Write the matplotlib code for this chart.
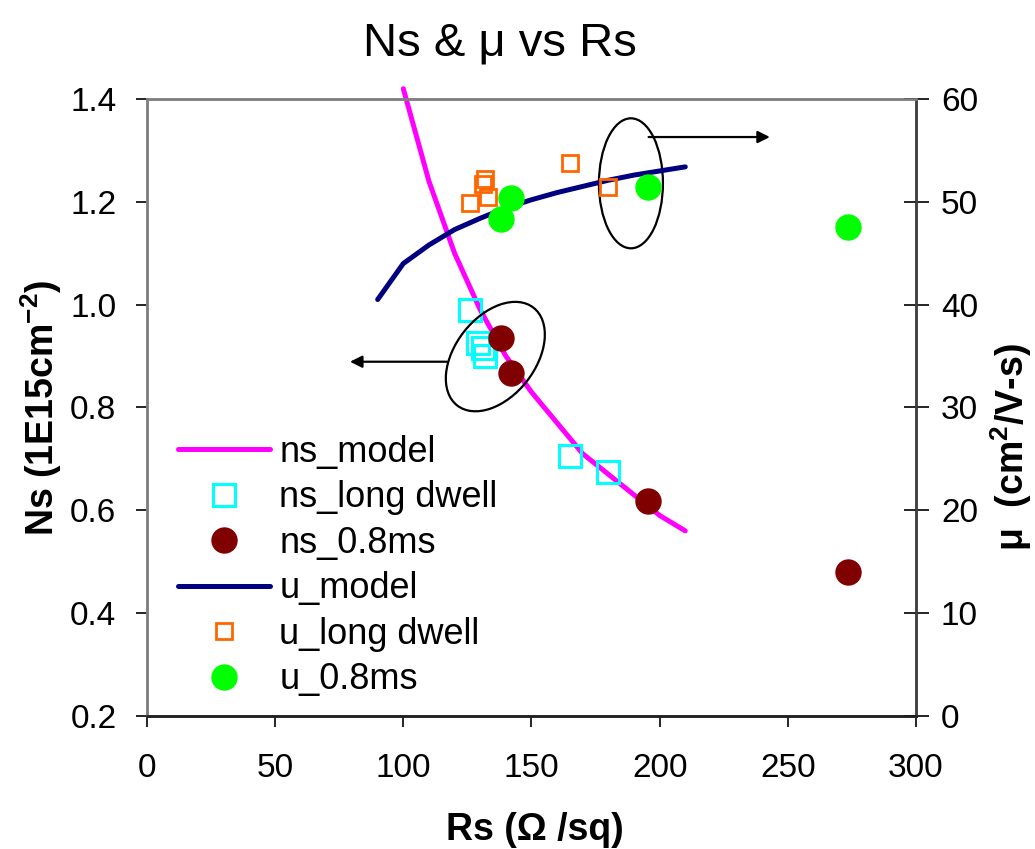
import matplotlib
matplotlib.use("Agg")
import matplotlib.pyplot as plt
from matplotlib.patches import Ellipse
from matplotlib import transforms

plt.rcParams['font.family'] = ['Liberation Sans', 'DejaVu Sans']
plt.rcParams['mathtext.fontset'] = 'custom'
plt.rcParams['mathtext.rm'] = 'Liberation Sans'
plt.rcParams['mathtext.bf'] = 'Liberation Sans:bold'

# model curves
rs_u_model = [90, 100, 110, 120, 130, 140, 150, 160, 170, 180, 190, 200, 210]
u_model = [40.5, 44.0, 45.8, 47.3, 48.4, 49.4, 50.2, 50.9, 51.5, 52.1, 52.6, 53.0, 53.4]
rs_ns_model = [100, 110, 120, 130, 140, 150, 160, 170, 180, 190, 200, 210]
ns_model = [1.42, 1.24, 1.10, 0.99, 0.90, 0.83, 0.77, 0.71, 0.67, 0.63, 0.59, 0.56]

# measured sheet carrier density (1E15 cm-2)
rs_ns_long = [126, 129, 131, 132, 165, 180]
ns_long = [0.99, 0.925, 0.915, 0.90, 0.705, 0.675]
rs_ns_08 = [138, 142, 195.5, 273.5]
ns_08 = [0.936, 0.868, 0.618, 0.480]

# measured mobility (cm2/V-s)
rs_u_long = [126, 131, 132, 133, 165, 180]
u_long = [49.9, 51.7, 52.2, 50.5, 53.8, 51.4]
rs_u_08 = [138, 142, 195.5, 273.5]
u_08 = [48.3, 50.4, 51.4, 47.6]

fig = plt.figure(figsize=(10.35, 8.49), dpi=100)
ax1 = fig.add_axes([0.142, 0.1567, 0.743, 0.7267])
ax2 = ax1.twinx()

l1, = ax1.plot(rs_ns_model, ns_model, color='#FF00FF', lw=3.6, solid_capstyle='round',
               clip_on=False, label='ns_model')
l2, = ax1.plot(rs_ns_long, ns_long, ls='none', marker='s', ms=15.5, mfc='none', mec='#00FFFF',
               mew=2.2, label='ns_long dwell')
l3, = ax1.plot(rs_ns_08, ns_08, ls='none', marker='o', ms=18, color='#800000', mec='#800000',
               label='ns_0.8ms')
l4, = ax2.plot(rs_u_model, u_model, color='#000080', lw=3.6, solid_capstyle='round',
               label='u_model')
l5, = ax2.plot(rs_u_long, u_long, ls='none', marker='s', ms=11.5, mfc='none', mec='#FF6600',
               mew=2.0, label='u_long dwell')
l6, = ax2.plot(rs_u_08, u_08, ls='none', marker='o', ms=18, color='#00FF00', mec='#00FF00',
               label='u_0.8ms')

ax1.set_xlim(0, 300)
ax1.set_ylim(0.2, 1.4)
ax2.set_ylim(0, 60)
ax1.set_xticks(range(0, 301, 50))
ax1.set_yticks([0.2, 0.4, 0.6, 0.8, 1.0, 1.2, 1.4])
ax1.set_yticklabels(['%.1f' % v for v in ax1.get_yticks()])
ax2.set_yticks(range(0, 61, 10))

ax1.tick_params(axis='x', direction='out', length=8, width=1.2, labelsize=24, pad=19)
ax1.tick_params(axis='y', direction='out', length=8, width=1.2, labelsize=24, pad=14)
ax2.tick_params(axis='y', direction='inout', length=18, width=1.2, labelsize=24, pad=9)

for a in (ax1, ax2):
    a.spines['left'].set_color('#808080')
    a.spines['top'].set_color('#808080')
    a.spines['right'].set_color('#404040')
    a.spines['bottom'].set_color('#202020')
    for s in a.spines.values():
        s.set_linewidth(1.8)

fig.text(500 / 1035, 1 - 55 / 849, 'Ns & μ vs Rs', fontsize=34, ha='center', va='baseline')
ax1.set_xlabel('Rs (Ω /sq)', fontsize=27, fontweight='bold')
ax1.xaxis.set_label_coords(0.505, -0.155)
ax1.set_ylabel('Ns (1E15cm$^{\\mathbf{-2}}$)', fontsize=27, fontweight='bold')
ax1.yaxis.set_label_coords(-0.108, 0.5)
ax2.set_ylabel('μ  (cm$^{\\mathbf{2}}$/V-s)', fontsize=27, fontweight='bold')
ax2.yaxis.set_label_coords(1.094, 0.436)

# annotations: ellipses around the groups and arrows to their axis
e1 = Ellipse((0, 0), 0.64, 1.30, angle=0, fill=False, ec='black', lw=1.6,
             transform=fig.dpi_scale_trans + transforms.ScaledTranslation(188.8, 51.8, ax2.transData))
ax2.add_artist(e1)
e2 = Ellipse((0, 0), 1.24, 0.80, angle=52, fill=False, ec='black', lw=1.6,
             transform=fig.dpi_scale_trans + transforms.ScaledTranslation(135.9, 0.899, ax1.transData))
ax2.add_artist(e2)
ax2.annotate('', xy=(243, 56.3), xytext=(195.7, 56.3),
             arrowprops=dict(arrowstyle='-|>', color='black', lw=1.6, mutation_scale=18,
                             shrinkA=0, shrinkB=0))
ax1.annotate('', xy=(79.2, 0.889), xytext=(117, 0.889),
             arrowprops=dict(arrowstyle='-|>', color='black', lw=1.6, mutation_scale=18,
                             shrinkA=0, shrinkB=0))

leg = ax2.legend([l1, l2, l3, l4, l5, l6],
                 ['ns_model', 'ns_long dwell', 'ns_0.8ms', 'u_model', 'u_long dwell', 'u_0.8ms'],
                 loc='upper left', bbox_to_anchor=(0.172, 0.4876), bbox_transform=fig.transFigure,
                 frameon=False, fontsize=26, numpoints=1, handlelength=2.55, handletextpad=0.25,
                 labelspacing=0.29, borderpad=0, borderaxespad=0)

fig.savefig('out.png', dpi=100)
